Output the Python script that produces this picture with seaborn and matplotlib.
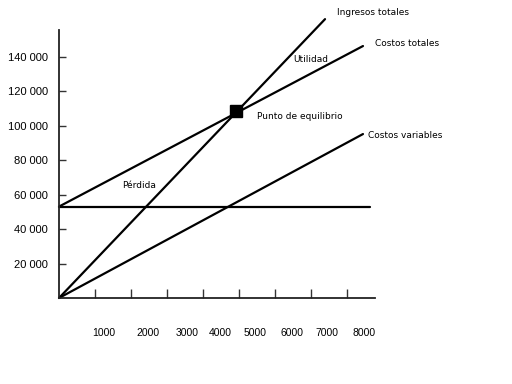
import matplotlib
matplotlib.use("Agg")
import matplotlib.pyplot as plt
import seaborn as sns
import pandas as pd

# --- data (units, pesos) ---
ingresos_x = [0, 7390]
ingresos_y = [0, 161700]
costos_totales_x = [0, 8444]
costos_totales_y = [53000, 146100]
costos_variables_x = [0, 8444]
costos_variables_y = [0, 95070]
costos_fijos_x = [0, 8640]
costos_fijos_y = [53000, 53000]
equilibrio = (4903, 108700)

y_ticks = [20000, 40000, 60000, 80000, 100000, 120000, 140000]
x_tick_marks = [1000, 2000, 3000, 4000, 5000, 6000, 7000, 8000]
# the unit labels sit a bit off from their tick marks in the original
x_label_text = ["1000", "2000", "3000", "4000", "5000", "6000", "7000", "8000"]
x_label_pos = [1250, 2470, 3550, 4470, 5450, 6470, 7440, 8470]

sns.set_style("white")
plt.rcParams["font.family"] = ["Liberation Sans", "DejaVu Sans"]
plt.rcParams["text.color"] = "black"
plt.rcParams["ytick.color"] = "black"
plt.rcParams["xtick.color"] = "black"

fig = plt.figure(figsize=(5.12, 3.84), dpi=100)
ax = fig.add_axes([59 / 512, 1 - 298 / 384, 316 / 512, 268 / 384])

lines = [
    (ingresos_x, ingresos_y),
    (costos_totales_x, costos_totales_y),
    (costos_variables_x, costos_variables_y),
    (costos_fijos_x, costos_fijos_y),
]
for xs, ys in lines:
    df = pd.DataFrame({"x": xs, "y": ys})
    sns.lineplot(data=df, x="x", y="y", ax=ax, color="black", lw=1.6,
                 clip_on=False)

ax.plot([equilibrio[0]], [equilibrio[1]], marker="s", ms=8, color="black",
        clip_on=False, zorder=5)

ax.set_xlim(0, 8778)
ax.set_ylim(0, 155400)
ax.set_xlabel("")
ax.set_ylabel("")

ax.set_yticks(y_ticks)
ax.set_yticklabels([f"{v:,}".replace(",", " ") for v in y_ticks], fontsize=8,
                   color="black")
ax.set_xticks(x_tick_marks)
ax.set_xticklabels([])
ax.tick_params(axis="y", direction="in", length=5, width=1, pad=8, left=True,
               color="#333333")
ax.tick_params(axis="x", direction="in", length=6.5, width=1, bottom=True,
               color="#333333")

for s in ["top", "right"]:
    ax.spines[s].set_visible(False)
for s in ["left", "bottom"]:
    ax.spines[s].set_color("#222222")
    ax.spines[s].set_linewidth(1.3)

for txt, xp in zip(x_label_text, x_label_pos):
    ax.text(xp, -20300, txt, ha="center", va="center", fontsize=7.5,
            color="black")

ann = dict(fontsize=6.5, va="center", ha="left", family="DejaVu Sans",
           color="black")
ax.text(7710, 165800, "Ingresos totales", **ann)
ax.text(8780, 147500, "Costos totales", **ann)
ax.text(6500, 138200, "Utilidad", **ann)
ax.text(5500, 105500, "Punto de equilibrio", **ann)
ax.text(8580, 94000, "Costos variables", **ann)
ax.text(1750, 65200, "Pérdida", **ann)

fig.savefig("out.png", dpi=100)
